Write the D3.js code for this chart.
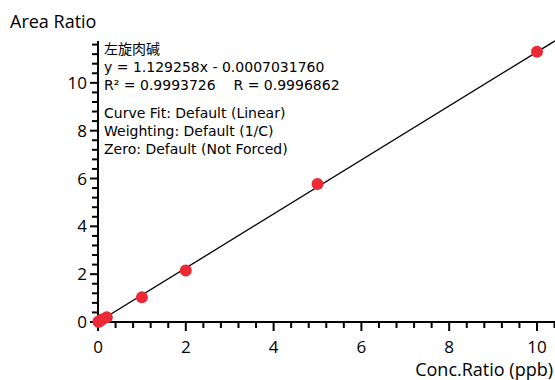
<!DOCTYPE html>
<html><head><meta charset="utf-8">
<script src="https://cdn.jsdelivr.net/npm/d3@7"></script>
<style>
html,body{margin:0;padding:0;background:#fff;}
text{font-family:"Open Sans","Noto Sans CJK SC",sans-serif;fill:#000;}
text.ann{font-family:"DejaVu Sans","Noto Sans CJK SC",sans-serif;}
</style></head>
<body>
<svg id="chart" width="555" height="380"></svg>
<script>
const concRatio = [0.01, 0.02, 0.05, 0.1, 0.2, 1, 2, 5, 10];
const areaRatio = [0.01, 0.02, 0.05, 0.11, 0.2, 1.03, 2.15, 5.77, 11.3];
const fitSlope = 1.129258;
const fitIntercept = -0.0007031760;
const xTickValues = [0, 2, 4, 6, 8, 10];
const yTickValues = [0, 2, 4, 6, 8, 10];
const annotationLines = ["左旋肉碱", "y = 1.129258x - 0.0007031760", "R² = 0.9993726    R = 0.9996862", "Curve Fit: Default (Linear)", "Weighting: Default (1/C)", "Zero: Default (Not Forced)"];
const xTitle = "Conc.Ratio (ppb)";
const yTitle = "Area Ratio";

const svg = d3.select("#chart");
const x = d3.scaleLinear().domain([0, 10.41]).range([98, 555]);
const y = d3.scaleLinear().domain([0, 11.75]).range([322, 41]);

// x axis
const xMinor = d3.range(0, 10.41, 0.4).filter(v => Math.abs(v/2 - Math.round(v/2)) > 1e-6);
const xg = svg.append("g").attr("transform", "translate(0,322)");
xg.append("line").attr("x1", x(0) - 1).attr("x2", 555).attr("stroke", "#000").attr("stroke-width", 2);
xg.selectAll(".mj").data(xTickValues).join("line").attr("x1", d => x(d)).attr("x2", d => x(d)).attr("y1", 0).attr("y2", 9).attr("stroke", "#000").attr("stroke-width", 2);
xg.selectAll(".mn").data(xMinor).join("line").attr("x1", d => x(d)).attr("x2", d => x(d)).attr("y1", 0).attr("y2", 6).attr("stroke", "#000").attr("stroke-width", 2);
xg.selectAll(".lb").data(xTickValues).join("text").attr("x", d => x(d)).attr("y", 31).attr("text-anchor", "middle").attr("font-size", 17).text(d => d);

// y axis
const yMinor = d3.range(0, 11.75, 0.4).filter(v => Math.abs(v/2 - Math.round(v/2)) > 1e-6);
const yg = svg.append("g").attr("transform", "translate(98,0)");
yg.append("line").attr("y1", y(0) + 1).attr("y2", y(11.75)).attr("stroke", "#000").attr("stroke-width", 2);
yg.selectAll(".mj").data(yTickValues).join("line").attr("y1", d => y(d)).attr("y2", d => y(d)).attr("x1", 0).attr("x2", -8).attr("stroke", "#000").attr("stroke-width", 2);
yg.selectAll(".mn").data(yMinor).join("line").attr("y1", d => y(d)).attr("y2", d => y(d)).attr("x1", 0).attr("x2", -6).attr("stroke", "#000").attr("stroke-width", 2);
yg.selectAll(".lb").data(yTickValues).join("text").attr("x", -11).attr("y", d => y(d) + 6).attr("text-anchor", "end").attr("font-size", 17).text(d => d);

// fit line
const xEnd = 10.41;
svg.append("line").attr("x1", x(0)).attr("y1", y(fitIntercept)).attr("x2", x(xEnd)).attr("y2", y(fitSlope * xEnd + fitIntercept))
  .attr("stroke", "#000").attr("stroke-width", 1.3);

// points
svg.selectAll(".pt").data(concRatio).join("circle")
  .attr("cx", d => x(d)).attr("cy", (d, i) => y(areaRatio[i])).attr("r", 6).attr("fill", "#ec2a35");

// annotation
const ann = svg.append("g");
const annY = [54, 72, 90, 118, 136, 154];
ann.selectAll("text").data(annotationLines).join("text").attr("class", "ann").attr("x", 104).attr("y", (d, i) => annY[i]).attr("font-size", 14).attr("xml:space", "preserve").style("white-space", "pre").text(d => d);

// titles
svg.append("text").attr("x", 10).attr("y", 28).attr("font-size", 18).text(yTitle);
svg.append("text").attr("x", 553).attr("y", 376).attr("text-anchor", "end").attr("font-size", 18).text(xTitle);
</script>
</body></html>
